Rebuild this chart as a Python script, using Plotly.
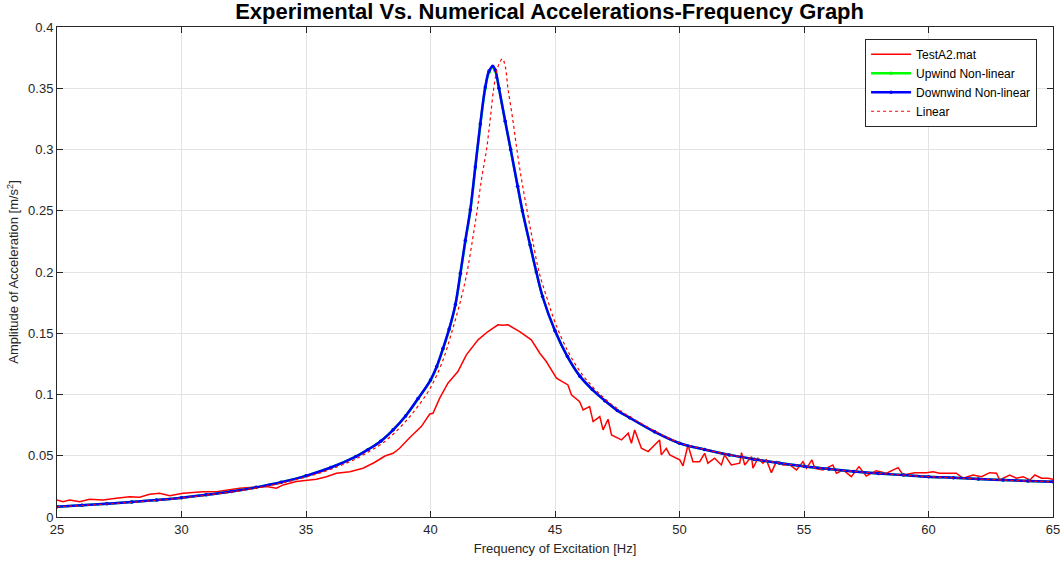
import plotly.graph_objects as go

# ---- Experimental data (TestA2.mat) ----
test_f = [25.0, 25.24, 25.51, 25.91, 26.31, 26.85, 27.38, 27.92, 28.32, 28.72, 29.12, 29.53,
          30.06, 30.46, 30.86, 31.4, 31.8, 32.34, 32.87, 33.41, 33.81, 34.08, 34.61, 35.02,
          35.42, 35.82, 36.22, 36.76, 37.29, 37.75, 38.17, 38.5, 38.76, 39.18, 39.63, 39.97,
          40.1, 40.37, 40.7, 41.1, 41.44, 41.91, 42.31, 42.71, 42.9, 43.11, 43.58, 44.05,
          44.39, 44.65, 45.06, 45.52, 45.66, 45.99, 46.13, 46.39, 46.53, 46.8, 46.93, 47.13,
          47.27, 47.67, 47.94, 48.07, 48.2, 48.47, 48.74, 49.2, 49.27, 49.47, 49.61, 50.01,
          50.14, 50.34, 50.54, 50.81, 51.01, 51.14, 51.41, 51.68, 51.81, 52.08, 52.42, 52.49,
          52.62, 52.89, 52.95, 53.15, 53.35, 53.49, 53.69, 53.89, 54.16, 54.43, 54.7, 54.96,
          55.1, 55.32, 55.43, 55.76, 56.16, 56.3, 56.57, 56.9, 57.21, 57.5, 57.9, 58.31,
          58.78, 58.98, 59.45, 59.92, 60.18, 60.45, 60.72, 61.12, 61.39, 61.79, 62.13, 62.46,
          62.73, 62.86, 63.26, 63.53, 63.8, 64.07, 64.27, 64.54, 64.8, 65.0]
test_a = [0.0139, 0.0125, 0.0139, 0.0125, 0.0145, 0.0139, 0.0153, 0.0166, 0.0161, 0.0186, 0.0194, 0.0174,
          0.0194, 0.0199, 0.0207, 0.0207, 0.0221, 0.0235, 0.0243, 0.0248, 0.0235, 0.0262, 0.0289, 0.0297,
          0.0308, 0.0329, 0.0357, 0.037, 0.0398, 0.0445, 0.0498, 0.052, 0.0561, 0.0651, 0.0738, 0.0841,
          0.0847, 0.097, 0.1092, 0.1187, 0.1324, 0.1446, 0.1514, 0.1569, 0.1566, 0.1569, 0.1514, 0.1446,
          0.1337, 0.1269, 0.1133, 0.1078, 0.0997, 0.0942, 0.0874, 0.0901, 0.0779, 0.082, 0.0711, 0.0798,
          0.067, 0.0629, 0.0684, 0.0602, 0.0711, 0.0561, 0.0534, 0.0629, 0.0507, 0.0561, 0.0507, 0.0466,
          0.0417, 0.0588, 0.0452, 0.0452, 0.052, 0.0439, 0.048, 0.0425, 0.0507, 0.0425, 0.0439, 0.0525,
          0.0425, 0.0493, 0.0398, 0.048, 0.0439, 0.0466, 0.0362, 0.0452, 0.0425, 0.0425, 0.0384, 0.0452,
          0.0398, 0.0466, 0.0398, 0.0384, 0.0425, 0.0357, 0.0384, 0.0329, 0.0411, 0.0335, 0.0378, 0.0357,
          0.0403, 0.0343, 0.0362, 0.0362, 0.037, 0.0357, 0.0357, 0.0357, 0.0316, 0.0343, 0.0329, 0.0362,
          0.0357, 0.0302, 0.0343, 0.0316, 0.0329, 0.0302, 0.0343, 0.0316, 0.0316, 0.0308]

# ---- Numerical non-linear (upwind / downwind) ----
nl_f = [25, 26, 27, 28, 29, 30, 31, 32, 33, 34, 35, 36, 37, 37.5, 38, 38.5, 39, 39.5, 40, 40.25,
        40.5, 40.75, 41.0, 41.2, 41.4, 41.6, 41.8, 42.0, 42.2, 42.35, 42.5, 42.6, 42.75, 43.0,
        43.22, 43.5, 43.69, 44.0, 44.25, 44.5, 45.0, 45.5, 46.0, 46.5, 47.0, 47.5, 48.0, 49.0,
        50, 51, 52, 53, 54, 55, 56, 57, 58, 59, 60, 61, 62, 63, 64, 65]
up_a = [0.0084, 0.0095, 0.0108, 0.0122, 0.0139, 0.0158, 0.0181, 0.0208, 0.0242, 0.0283, 0.0336,
        0.0404, 0.0493, 0.0552, 0.0619, 0.0712, 0.0825, 0.0965, 0.1115, 0.1225, 0.137, 0.153,
        0.173, 0.198, 0.225, 0.25, 0.285, 0.32, 0.35, 0.363, 0.367, 0.364, 0.35, 0.323,
        0.3, 0.27, 0.25, 0.222, 0.2, 0.18, 0.152, 0.131, 0.115, 0.104, 0.095, 0.087, 0.081, 0.0695,
        0.0602, 0.0551, 0.0507, 0.0472, 0.0441, 0.0414, 0.0391, 0.0371, 0.0355, 0.0342, 0.0329,
        0.032, 0.031, 0.0302, 0.0294, 0.0288]
down_a = [0.0084, 0.0095, 0.0108, 0.0122, 0.0139, 0.0158, 0.0181, 0.0208, 0.0242, 0.0283, 0.0336,
          0.0404, 0.0493, 0.0552, 0.0619, 0.0712, 0.0825, 0.0967, 0.1118, 0.1228, 0.1375, 0.1535,
          0.1735, 0.199, 0.226, 0.251, 0.286, 0.321, 0.351, 0.364, 0.368, 0.365, 0.35, 0.323,
          0.3, 0.27, 0.25, 0.222, 0.2, 0.18, 0.152, 0.131, 0.115, 0.104, 0.095, 0.087, 0.081, 0.0695,
          0.0602, 0.0551, 0.0507, 0.0472, 0.0441, 0.0414, 0.0391, 0.0371, 0.0355, 0.0342, 0.0329,
          0.032, 0.031, 0.0302, 0.0294, 0.0288]

# ---- Linear model ----
lin_f = [25, 26, 27, 28, 29, 30, 31, 32, 33, 34, 35, 36, 37, 37.5, 38, 38.5, 39, 39.5, 40, 40.5,
         40.84, 41.2, 41.47, 41.7, 41.87, 42.05, 42.25, 42.4, 42.54, 42.7, 42.89, 43.0, 43.11,
         43.3, 43.47, 43.66, 43.88, 44.1, 44.36, 44.72, 45.0, 45.5, 46, 46.5, 47, 47.5, 48, 49,
         50, 51, 52, 53, 54, 55, 56, 57, 58, 59, 60, 61, 62, 63, 64, 65]
lin_a = [0.0083, 0.0094, 0.0106, 0.012, 0.0136, 0.0155, 0.0178, 0.0204, 0.0236, 0.0276, 0.0326,
         0.039, 0.0474, 0.053, 0.0592, 0.0676, 0.078, 0.0905, 0.1055, 0.128, 0.15, 0.176, 0.2,
         0.228, 0.25, 0.276, 0.3, 0.325, 0.35, 0.367, 0.374, 0.368, 0.35, 0.325, 0.3, 0.275,
         0.25, 0.226, 0.2, 0.176, 0.159, 0.136, 0.119, 0.1065, 0.0965, 0.0885, 0.082, 0.0703,
         0.0606, 0.0553, 0.0508, 0.0473, 0.0442, 0.0415, 0.0392, 0.0372, 0.0356, 0.0342, 0.0329,
         0.032, 0.031, 0.0302, 0.0294, 0.0288]

x_ticks = [25, 30, 35, 40, 45, 50, 55, 60, 65]
y_ticks = [0, 0.05, 0.1, 0.15, 0.2, 0.25, 0.3, 0.35, 0.4]
y_ticklabels = ["0", "0.05", "0.1", "0.15", "0.2", "0.25", "0.3", "0.35", "0.4"]

FONT = "Liberation Sans, Arial, Helvetica, sans-serif"
AX = "#262626"

fig = go.Figure()
fig.add_trace(go.Scatter(x=test_f, y=test_a, mode="lines", name="TestA2.mat",
                         line=dict(color="#ff0000", width=1.5)))
fig.add_trace(go.Scatter(x=nl_f, y=up_a, mode="lines+markers", name="Upwind Non-linear",
                         line=dict(color="#00ff00", width=2.5, shape="spline"),
                         marker=dict(color="#00ff00", size=3.5)))
fig.add_trace(go.Scatter(x=nl_f, y=down_a, mode="lines+markers", name="Downwind Non-linear",
                         line=dict(color="#0000ff", width=2.5, shape="spline"),
                         marker=dict(color="#0000ff", size=3.5)))
fig.add_trace(go.Scatter(x=lin_f, y=lin_a, mode="lines", name="Linear",
                         line=dict(color="#ff0000", width=1.2, dash="dot", shape="spline")))

fig.update_layout(
    width=1062, height=563,
    paper_bgcolor="white", plot_bgcolor="white",
    margin=dict(l=57, r=9, t=27, b=46, autoexpand=False),
    font=dict(family=FONT, size=13, color=AX),
    title=dict(text="<b>Experimental Vs. Numerical Accelerations-Frequency Graph</b>",
               x=0.5175, xanchor="center", y=0.98, yanchor="middle",
               font=dict(family=FONT, size=22, color="#000000")),
    showlegend=True,
    legend=dict(x=0.984, y=0.976, xanchor="right", yanchor="top",
                bgcolor="white", bordercolor="#262626", borderwidth=1,
                font=dict(family=FONT, size=12, color="#000000"),
                tracegroupgap=0, itemwidth=40),
)
fig.update_xaxes(range=[25, 65], tickvals=x_ticks, showgrid=True, gridcolor="#e3e3e3",
                 gridwidth=1, zeroline=False, showline=True, linecolor=AX, linewidth=1,
                 mirror="ticks", ticks="inside", ticklen=6, tickcolor=AX, automargin=False,
                 title=dict(text="Frequency of Excitation [Hz]", standoff=8,
                            font=dict(family=FONT, size=13, color=AX)),
                 tickfont=dict(family=FONT, size=13, color=AX))
fig.update_yaxes(range=[0, 0.4], tickvals=y_ticks, ticktext=y_ticklabels, showgrid=True,
                 gridcolor="#e3e3e3", gridwidth=1, zeroline=False, showline=True,
                 linecolor=AX, linewidth=1, mirror="ticks", ticks="inside", ticklen=6,
                 tickcolor=AX, automargin=False,
                 title=dict(text="Amplitude of Acceleration [m/s<sup>2</sup>]", standoff=6,
                            font=dict(family=FONT, size=13, color=AX)),
                 tickfont=dict(family=FONT, size=13, color=AX))

fig.write_html("out.html", config={"displayModeBar": False},
               post_script="document.body.style.margin='0';")
